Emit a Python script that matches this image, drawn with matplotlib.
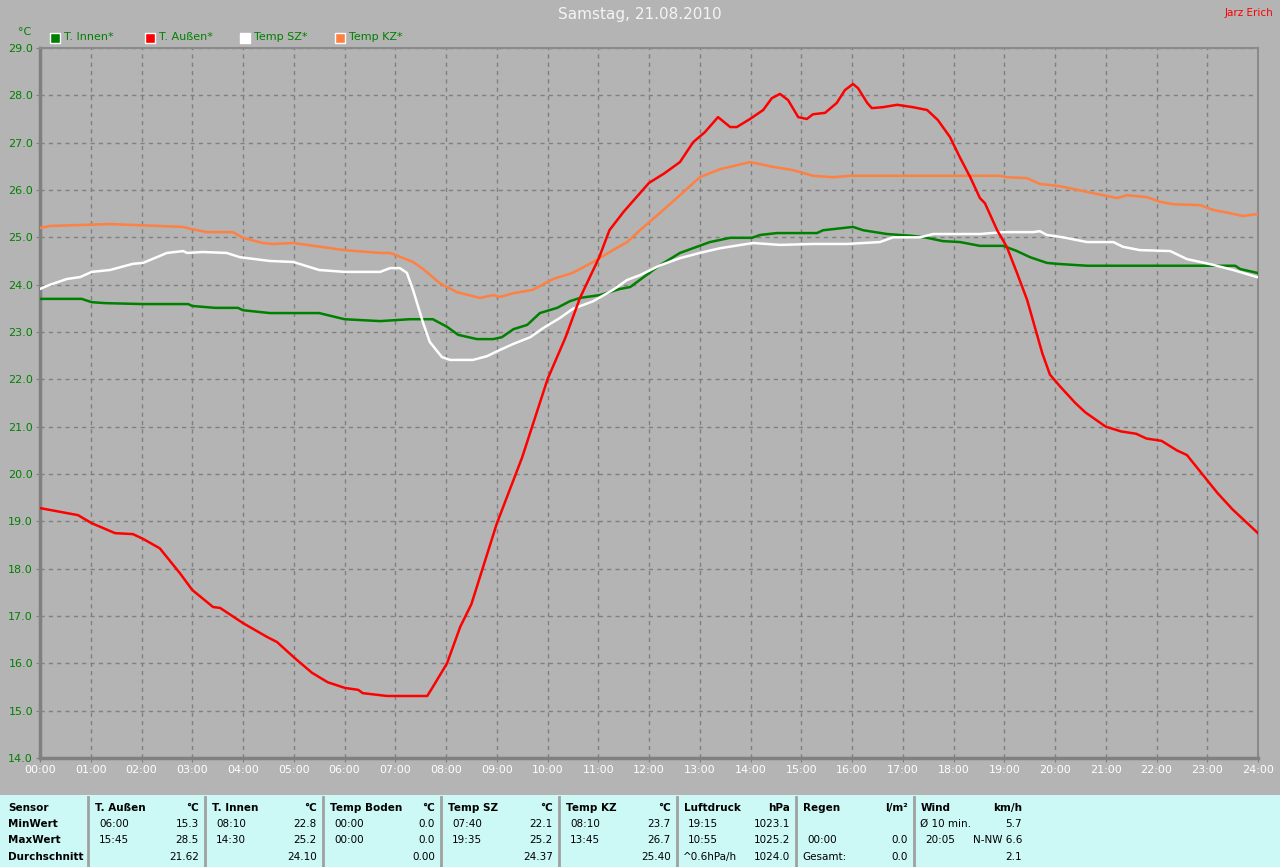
import matplotlib
matplotlib.use('Agg')
import matplotlib.pyplot as plt
from matplotlib.patches import Rectangle

# hours since midnight / temperatures

t_aussen_h = [0.0, 0.75, 1.02, 1.48, 1.83, 2.03, 2.36, 2.76, 3.0, 3.41, 3.55, 4.0, 4.47, 4.67,
              5.02, 5.36, 5.67, 6.01, 6.27, 6.36, 6.84, 7.63, 7.74, 8.02, 8.28, 8.5, 9.0, 9.5,
              10.0, 10.36, 10.64, 11.02, 11.22, 11.5, 12.0, 12.3, 12.61, 12.87, 13.1, 13.36,
              13.6, 13.73, 13.99, 14.25, 14.42, 14.58, 14.74, 14.94, 15.11, 15.23, 15.47, 15.7,
              15.86, 16.02, 16.12, 16.3, 16.39, 16.61, 16.89, 17.2, 17.48, 17.69, 17.93, 18.13,
              18.33, 18.52, 18.62, 18.86, 19.05, 19.25, 19.45, 19.75, 19.9, 20.1, 20.4, 20.6,
              21.0, 21.3, 21.6, 21.8, 22.1, 22.4, 22.6, 22.9, 23.2, 23.5, 23.75, 24.0]
t_aussen = [19.28, 19.13, 18.96, 18.75, 18.73, 18.63, 18.43, 17.9, 17.55, 17.19, 17.17, 16.85, 16.56, 16.45,
            16.11, 15.8, 15.6, 15.48, 15.44, 15.37, 15.31, 15.31, 15.5, 16.0, 16.77, 17.25, 18.95, 20.35,
            22.0, 22.9, 23.72, 24.58, 25.15, 25.54, 26.15, 26.35, 26.59, 27.01, 27.22, 27.54,
            27.33, 27.33, 27.5, 27.69, 27.94, 28.03, 27.9, 27.54, 27.5, 27.6, 27.63, 27.84,
            28.11, 28.24, 28.15, 27.84, 27.73, 27.75, 27.8, 27.75, 27.69, 27.48, 27.12, 26.68,
            26.27, 25.83, 25.72, 25.15, 24.8, 24.25, 23.68, 22.55, 22.1, 21.85, 21.5, 21.3,
            21.0, 20.9, 20.85, 20.75, 20.7, 20.5, 20.4, 20.0, 19.6, 19.25, 19.0, 18.75]

t_innen_h = [0.0, 0.82, 1.02, 1.28, 2.03, 2.92, 3.0, 3.45, 3.9, 4.0, 4.53, 5.12, 5.5, 6.0, 6.7,
             7.29, 7.74, 8.02, 8.24, 8.61, 8.93, 9.1, 9.33, 9.6, 9.85, 10.19, 10.44, 10.64,
             11.03, 11.43, 11.63, 11.82, 12.2, 12.61, 13.2, 13.6, 14.03, 14.19, 14.52, 15.31,
             15.43, 16.02, 16.22, 16.69, 17.2, 17.48, 17.79, 18.13, 18.52, 18.98, 19.25, 19.51,
             19.84, 20.04, 20.63, 23.55, 23.65, 23.98]
t_innen = [23.7, 23.7, 23.63, 23.61, 23.59, 23.59, 23.55, 23.51, 23.51, 23.46, 23.4, 23.4, 23.4, 23.27, 23.23,
           23.27, 23.27, 23.11, 22.94, 22.85, 22.85, 22.89, 23.06, 23.15, 23.4, 23.51, 23.65, 23.72,
           23.78, 23.91, 23.95, 24.1, 24.4, 24.67, 24.9, 24.99, 24.99, 25.05, 25.09, 25.09,
           25.15, 25.22, 25.15, 25.07, 25.03, 24.99, 24.92, 24.9, 24.82, 24.82, 24.71, 24.58,
           24.46, 24.44, 24.4, 24.4, 24.33, 24.25]

temp_sz_h = [0.0, 0.2, 0.53, 0.79, 1.02, 1.38, 1.83, 2.03, 2.3, 2.5, 2.82, 2.9, 3.21, 3.68, 3.94,
             4.53, 4.99, 5.5, 6.0, 6.7, 6.9, 7.09, 7.23, 7.35, 7.55, 7.68, 7.92, 8.08, 8.53,
             8.81, 9.06, 9.33, 9.66, 9.91, 10.25, 10.5, 10.9, 11.29, 11.57, 11.82, 12.2, 12.61,
             13.0, 13.4, 14.05, 14.58, 15.23, 15.9, 16.55, 16.81, 17.34, 17.6, 18.52, 18.98,
             19.57, 19.7, 19.84, 20.16, 20.63, 21.15, 21.34, 21.67, 22.27, 22.6, 22.86, 23.11,
             23.51, 23.98]
temp_sz = [23.91, 24.0, 24.12, 24.16, 24.27, 24.31, 24.44, 24.46, 24.58, 24.67, 24.71, 24.67, 24.69, 24.67, 24.58,
           24.5, 24.48, 24.31, 24.27, 24.27, 24.35, 24.35, 24.25, 23.89, 23.19, 22.79, 22.47, 22.41, 22.41,
           22.49, 22.62, 22.75, 22.89, 23.08, 23.3, 23.49, 23.65, 23.89, 24.1, 24.2, 24.4, 24.56,
           24.67, 24.77, 24.88, 24.84, 24.86, 24.86, 24.9, 25.0, 25.0, 25.07, 25.07, 25.11,
           25.11, 25.13, 25.05, 25.0, 24.9, 24.9, 24.8, 24.73, 24.71, 24.54, 24.48, 24.42,
           24.31, 24.16]

temp_kz_h = [0.0, 0.2, 1.38, 2.82, 2.96, 3.29, 3.8, 4.0, 4.39, 4.6, 4.99, 6.0, 6.7, 6.9, 7.35,
             7.55, 7.88, 8.22, 8.67, 8.93, 9.06, 9.33, 9.71, 10.11, 10.5, 10.9, 11.29, 11.57,
             11.82, 12.2, 12.61, 13.0, 13.4, 13.99, 14.44, 14.84, 15.23, 15.63, 15.96, 18.52,
             18.92, 19.05, 19.45, 19.7, 20.1, 20.63, 21.22, 21.42, 21.81, 22.07, 22.33, 22.86,
             23.11, 23.45, 23.7, 23.98]
temp_kz = [25.2, 25.24, 25.28, 25.22, 25.18, 25.11, 25.11, 24.99, 24.88, 24.86, 24.88, 24.73, 24.67, 24.67, 24.48,
           24.33, 24.03, 23.84, 23.72, 23.78, 23.74, 23.82, 23.89, 24.12, 24.25, 24.48, 24.73, 24.9,
           25.15, 25.5, 25.89, 26.27, 26.44, 26.59, 26.49, 26.42, 26.3, 26.27, 26.3, 26.3,
           26.3, 26.27, 26.25, 26.13, 26.08, 25.96, 25.83, 25.89, 25.85, 25.75, 25.7, 25.68,
           25.58, 25.51, 25.45, 25.49]

series_names = ['T. Innen*', 'T. Außen*', 'Temp SZ*', 'Temp KZ*']
series_colors = ['#008000', '#ff0000', '#ffffff', '#ff8040']

x_ticks = list(range(0, 25))
x_labels = ['%02d:00' % h for h in x_ticks]
y_ticks = [14 + i for i in range(16)]

# bottom summary table
table_header = ['Sensor', 'T. Außen', '°C', 'T. Innen', '°C', 'Temp Boden', '°C', 'Temp SZ', '°C',
                'Temp KZ', '°C', 'Luftdruck', 'hPa', 'Regen', 'l/m²', 'Wind', 'km/h']
row_names = ['MinWert', 'MaxWert', 'Durchschnitt']
col_times = [['06:00', '15:45', ''], ['08:10', '14:30', ''], ['00:00', '00:00', ''],
             ['07:40', '19:35', ''], ['08:10', '13:45', ''], ['19:15', '10:55', '^0.6hPa/h'],
             ['', '00:00', 'Gesamt:'], ['Ø 10 min.', '20:05', '']]
col_values = [['15.3', '28.5', '21.62'], ['22.8', '25.2', '24.10'], ['0.0', '0.0', '0.00'],
              ['22.1', '25.2', '24.37'], ['23.7', '26.7', '25.40'], ['1023.1', '1025.2', '1024.0'],
              ['', '0.0', '0.0'], ['5.7', 'N-NW 6.6', '2.1']]

W, H = 1280, 867
BG = '#b4b4b4'
GREEN_TXT = '#008000'


def fx(x):
    return x / W


def fy(y):
    return 1 - y / H


fig = plt.figure(figsize=[12.8, 8.67], dpi=100)
fig.patch.set_facecolor(BG)

ax = fig.add_axes([fx(40), fy(758), fx(1258) - fx(40), fy(48) - fy(758)])
ax.set_facecolor(BG)

ax.plot(t_innen_h, t_innen, color=series_colors[0], lw=1.8, zorder=3)
ax.plot(temp_sz_h, temp_sz, color=series_colors[2], lw=1.8, zorder=3)
ax.plot(temp_kz_h, temp_kz, color=series_colors[3], lw=1.8, zorder=3)
ax.plot(t_aussen_h, t_aussen, color=series_colors[1], lw=1.8, zorder=4)

ax.set_xlim(0, 24)
ax.set_ylim(14, 29)
ax.set_xticks(x_ticks)
ax.set_xticklabels(x_labels, color='white', fontsize=8)
ax.set_yticks(y_ticks)
ax.set_yticklabels(['%.1f' % v for v in y_ticks], color=GREEN_TXT, fontsize=8)
ax.tick_params(length=3, color='#808080', pad=2)
ax.grid(True, color='#808080', linestyle=(0, (3, 3)), lw=1)

for side in ['left', 'bottom']:
    ax.spines[side].set_color('#808080')
    ax.spines[side].set_linewidth(2.5)
for side in ['top', 'right']:
    ax.spines[side].set_color('#8a8a8a')
    ax.spines[side].set_linewidth(1.5)

# title and labels
fig.text(fx(640), fy(15), 'Samstag, 21.08.2010', color='#f4f4f4', fontsize=11, ha='center', va='center')
fig.text(fx(1273), fy(13), 'Jarz Erich', color='#ff0000', fontsize=7.5, ha='right', va='center')
fig.text(fx(25), fy(32), '°C', color=GREEN_TXT, fontsize=8, ha='center', va='center')

# legend boxes
leg_x = [50, 145, 240, 335]
for name, col, lx in zip(series_names, series_colors, leg_x):
    fig.patches.append(Rectangle((fx(lx), fy(43)), fx(10), 10 / H, facecolor=col,
                                 edgecolor='white', lw=1, transform=fig.transFigure))
    fig.text(fx(lx + 14), fy(37), name, color=GREEN_TXT, fontsize=8, ha='left', va='center')

# table
fig.patches.append(Rectangle((0, 0), 1, fy(795), facecolor='#ccf8f6', edgecolor='none',
                             transform=fig.transFigure))
seps = [88, 205, 323, 441, 559, 677, 796, 914]
for s in seps:
    fig.add_artist(plt.Line2D([fx(s), fx(s)], [0, fy(797)], color='#a0a0a0', lw=2,
                              transform=fig.transFigure))

row_y = [808, 824, 840, 857]
fig.text(fx(8), fy(row_y[0]), table_header[0], fontsize=7.5, weight='bold', va='center')
for i, rn in enumerate(row_names):
    fig.text(fx(8), fy(row_y[i + 1]), rn, fontsize=7.5, weight='bold', va='center')

for c in range(8):
    left = seps[c]
    right = seps[c + 1] if c < 7 else 1028
    fig.text(fx(left + 7), fy(row_y[0]), table_header[1 + 2 * c], fontsize=7.5, weight='bold', va='center')
    fig.text(fx(right - 6), fy(row_y[0]), table_header[2 + 2 * c], fontsize=7.5, weight='bold',
             va='center', ha='right')
    for r in range(3):
        tx = col_times[c][r]
        if tx:
            off = 6 if tx in ('Gesamt:', '^0.6hPa/h', 'Ø 10 min.') else 11
            fig.text(fx(left + off), fy(row_y[r + 1]), tx, fontsize=7.5, va='center')
        val = col_values[c][r]
        if val:
            fig.text(fx(right - 6), fy(row_y[r + 1]), val, fontsize=7.5, va='center', ha='right')

plt.savefig('out.png', dpi=100, facecolor=BG)
